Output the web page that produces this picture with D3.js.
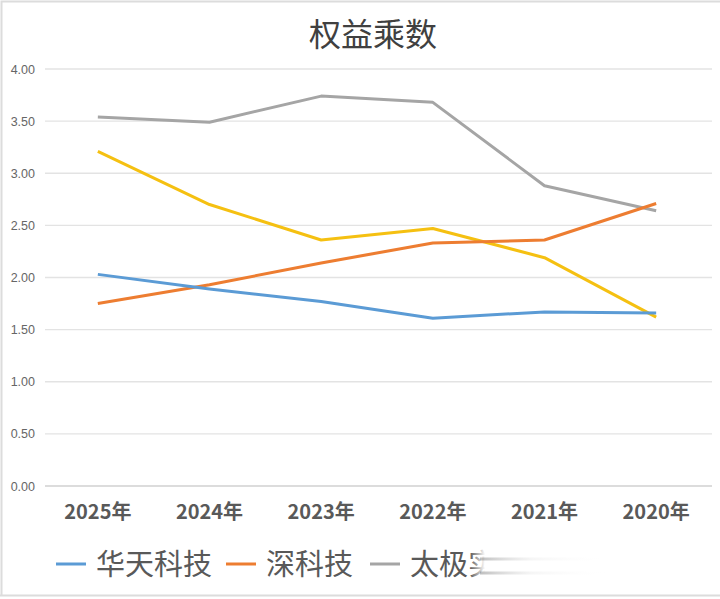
<!DOCTYPE html>
<html>
<head>
<meta charset="utf-8">
<script src="https://cdn.jsdelivr.net/npm/d3@7"></script>
<style>
  body { margin: 0; background: #fff; }
  svg { display: block; }
</style>
</head>
<body>
<div id="chart-area"></div>
<script>
var years = ["2025年", "2024年", "2023年", "2022年", "2021年", "2020年"];
var yTicks = [0, 0.5, 1, 1.5, 2, 2.5, 3, 3.5, 4];

var huatian = [2.03, 1.89, 1.77, 1.61, 1.67, 1.66];
var shenkeji = [1.75, 1.93, 2.14, 2.33, 2.36, 2.71];
var taiji = [3.54, 3.49, 3.74, 3.68, 2.88, 2.64];
var fourth = [3.21, 2.70, 2.36, 2.47, 2.19, 1.62];

var seriesNames = ["华天科技", "深科技", "太极实业", ""];
var seriesColors = ["#5b9bd5", "#ed7d31", "#a5a5a5", "#f5c011"];

var series = [huatian, shenkeji, taiji, fourth].map(function (vals, i) {
  return { name: seriesNames[i], color: seriesColors[i], values: vals };
});

var W = 720, H = 599;
var svg = d3.select("#chart-area")
  .append("svg")
  .attr("width", W)
  .attr("height", H);

// light frame
svg.append("path")
  .attr("d", "M1.5,596V1.5H720 M0,595.5H720")
  .attr("fill", "none")
  .attr("stroke", "#dcdcdc")
  .attr("stroke-width", 2);

var x = d3.scaleBand()
  .domain(years)
  .range([42, 712]);

var y = d3.scaleLinear()
  .domain([0, 4])
  .range([486, 69]);

// gridlines
svg.append("g")
  .selectAll("line")
  .data(yTicks)
  .enter()
  .append("line")
  .attr("x1", 45)
  .attr("x2", 712)
  .attr("y1", d => y(d))
  .attr("y2", d => y(d))
  .attr("stroke", d => d === 0 ? "#d0d0d0" : "#e3e3e3")
  .attr("stroke-width", 1.3);

var yAxis = d3.axisLeft(y)
  .tickValues(yTicks)
  .tickFormat(d3.format(".2f"))
  .tickSize(0)
  .tickPadding(0);

svg.append("g")
  .attr("class", "y axis")
  .attr("transform", "translate(35,0)")
  .call(yAxis)
  .call(g => g.select(".domain").remove())
  .selectAll("text")
    .attr("fill", "#666")
    .attr("font-family", "Liberation Sans, Arial, sans-serif")
    .attr("font-size", "12.5px");

var xAxis = d3.axisBottom(x).tickSize(0).tickPadding(0);
svg.append("g")
  .attr("class", "x axis")
  .attr("transform", "translate(0,505)")
  .call(xAxis)
  .call(g => g.select(".domain").remove())
  .selectAll("text")
    .attr("fill", "#595959")
    .attr("font-family", "Noto Sans CJK SC, sans-serif")
    .attr("font-weight", "bold")
    .attr("font-size", "20px");

var line = d3.line()
  .x((d, i) => x(years[i]) + x.bandwidth() / 2)
  .y(d => y(d));

// draw order: yellow and gray first so blue/orange sit on top like the original
[3, 2, 1, 0].forEach(function (i) {
  svg.append("path")
    .datum(series[i].values)
    .attr("fill", "none")
    .attr("stroke", series[i].color)
    .attr("stroke-width", 3)
    .attr("stroke-linejoin", "round")
    .attr("d", line);
});

// title
svg.append("text")
  .attr("x", 373)
  .attr("y", 46)
  .attr("text-anchor", "middle")
  .attr("font-family", "Noto Sans CJK SC, sans-serif")
  .attr("font-size", "32px")
  .attr("fill", "#404040")
  .text("权益乘数");

// legend
var legendPos = [56, 226, 370];
var legend = svg.append("g");
[0, 1, 2].forEach(function (i) {
  legend.append("line")
    .attr("x1", legendPos[i])
    .attr("x2", legendPos[i] + 30)
    .attr("y1", 564)
    .attr("y2", 564)
    .attr("stroke", series[i].color)
    .attr("stroke-width", 3);
  legend.append("text")
    .attr("x", legendPos[i] + 40)
    .attr("y", 575)
    .attr("font-family", "Noto Sans CJK SC, sans-serif")
    .attr("font-size", "29px")
    .attr("fill", "#595959")
    .text(series[i].name);
});

// the original image has the rest of the legend smeared out
var defs = svg.append("defs");
var fade = defs.append("linearGradient").attr("id", "fade");
fade.append("stop").attr("offset", "0").attr("stop-color", "#fff").attr("stop-opacity", 0);
fade.append("stop").attr("offset", "0.06").attr("stop-color", "#fff").attr("stop-opacity", 1);
fade.append("stop").attr("offset", "1").attr("stop-color", "#fff").attr("stop-opacity", 1);
var streak = defs.append("linearGradient").attr("id", "streak");
streak.append("stop").attr("offset", "0").attr("stop-color", "#666").attr("stop-opacity", 0.7);
streak.append("stop").attr("offset", "0.4").attr("stop-color", "#ccc").attr("stop-opacity", 0.3);
streak.append("stop").attr("offset", "1").attr("stop-color", "#fff").attr("stop-opacity", 0);

svg.append("rect")
  .attr("x", 470).attr("y", 540)
  .attr("width", 250).attr("height", 52)
  .attr("fill", "url(#fade)");
[559, 573].forEach(function (yy) {
  svg.append("rect")
    .attr("x", 480).attr("y", yy - 1.5)
    .attr("width", 130).attr("height", 3)
    .attr("fill", "url(#streak)")
    .attr("opacity", 0.6);
});
</script>
</body>
</html>
